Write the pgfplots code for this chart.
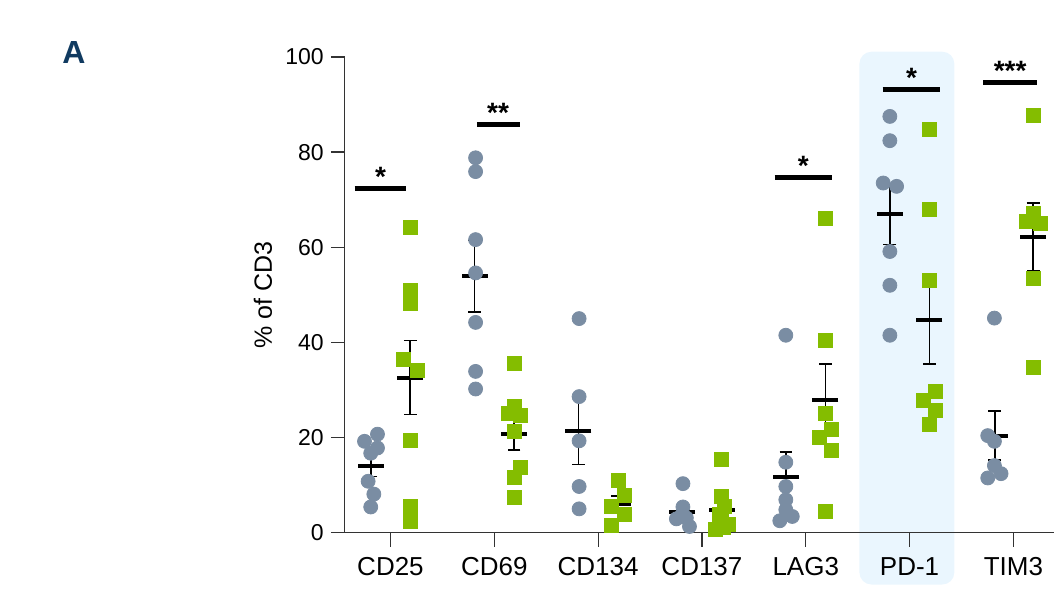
\documentclass[border=0pt]{standalone}
\usepackage{fontspec}
\setmainfont{Liberation Sans}
\usepackage{pgfplots}
\usepackage{pgfplotstable}
\pgfplotsset{compat=1.18}

\definecolor{circ}{HTML}{7A8DA3}
\definecolor{sqr}{HTML}{84BD00}
\definecolor{hl}{HTML}{EAF6FE}
\definecolor{navy}{HTML}{103A60}
\definecolor{axgray}{HTML}{333333}

% circles (group 1): x y
\pgfplotstableread{
x y
-0.25 19.2
-0.125 20.7
-0.125 17.8
-0.19 16.7
-0.215 10.8
-0.16 8.1
-0.19 5.4
0.82 78.8
0.82 75.9
0.82 61.6
0.82 54.6
0.82 44.2
0.82 33.9
0.82 30.2
1.817 45.0
1.817 28.6
1.817 19.3
1.817 9.7
1.817 5.0
2.817 10.3
2.817 5.4
2.80 3.5
2.754 2.9
2.85 3.1
2.88 1.3
3.808 41.5
3.808 14.8
3.808 9.7
3.808 6.9
3.808 4.8
3.87 3.4
3.75 2.5
4.81 87.5
4.81 82.4
4.746 73.5
4.875 72.8
4.81 59.1
4.81 52.0
4.81 41.5
5.817 45.1
5.753 20.4
5.817 19.2
5.817 14.1
5.881 12.4
5.753 11.5
}\circtab

% squares (group 2): x y
\pgfplotstableread{
x y
0.19 64.2
0.19 51.0
0.19 48.2
0.128 36.5
0.256 34.2
0.19 19.3
0.19 5.5
0.19 2.4
1.19 35.5
1.19 26.5
1.132 25.0
1.254 24.6
1.19 21.2
1.254 13.7
1.19 11.6
1.19 7.4
2.193 10.9
2.257 7.8
2.129 5.5
2.257 3.8
2.129 1.5
3.19 15.5
3.19 7.6
3.22 5.5
3.17 3.8
3.19 2.5
3.258 1.7
3.21 1.0
3.132 0.6
4.186 66.0
4.186 40.5
4.186 25.0
4.25 21.8
4.128 20.0
4.25 17.3
4.186 4.5
5.19 84.7
5.19 68.0
5.19 53.0
5.253 29.7
5.13 27.9
5.253 25.8
5.19 22.7
6.193 87.7
6.193 67.2
6.128 65.4
6.257 65.1
6.193 53.5
6.193 34.7
}\sqrtab

% means with SEM
\pgfplotstableread{
x y e
-0.19 14.1 2.3
0.19 32.6 7.8
0.81 53.9 7.5
1.19 20.7 3.3
1.81 21.4 7.1
2.19 5.95 1.7
2.81 4.35 1.0
3.19 4.7 1.8
3.81 11.8 5.2
4.19 27.8 7.6
4.81 66.9 6.3
5.19 44.6 9.1
5.82 20.4 5.15
6.19 62.2 7.1
}\meantab

\begin{document}
\begin{tikzpicture}
\path (0,0) rectangle (527.5pt,299.5pt);
\node[font=\fontsize{16}{18}\selectfont\bfseries, text=navy] at (37pt,273pt) {A};
\begin{axis}[
  at={(172.5pt,33pt)},
  anchor=south west,
  scale only axis,
  width=355pt,
  height=238pt,
  xmin=-0.44, xmax=6.394,
  ymin=0, ymax=100,
  clip=false,
  set layers=standard,
  axis lines*=left,
  axis line style={line width=0.7pt, color=axgray},
  tick align=outside,
  major tick length=7pt,
  tick style={line width=0.6pt, color=axgray},
  xtick={0,1,2,3,4,5,6},
  xticklabels={CD25,CD69,CD134,CD137,LAG3,PD-1,TIM3},
  ytick={0,20,40,60,80,100},
  /pgf/number format/assume math mode=true,
  xticklabel style={font=\fontsize{13}{15}\selectfont, yshift=-2pt},
  yticklabel style={font=\fontsize{11.5}{13}\selectfont},
  ylabel={\% of CD3},
  ylabel style={font=\fontsize{12.5}{14}\selectfont, at={(axis description cs:-0.1155,0.5)}, anchor=center},
]
\begin{pgfonlayer}{axis background}
\fill[hl, rounded corners=6pt]
  (axis cs:4.517,101.1) rectangle (axis cs:5.431,-10.9);
\end{pgfonlayer}

\addplot[only marks, mark=-, mark size=6.5pt, black,
  mark options={line width=2pt},
  error bars/.cd, y dir=both, y explicit,
  error bar style={line width=0.8pt, black},
  error mark options={rotate=90, mark size=3.2pt, line width=0.8pt, black}]
  table[x=x, y=y, y error=e] {\meantab};

\addplot[only marks, mark=*, mark size=3.5pt, color=circ, mark options={draw=none, fill=circ}]
  table[x=x, y=y] {\circtab};
\addplot[only marks, mark=square*, mark size=3.5pt, color=sqr, mark options={draw=none, fill=sqr}]
  table[x=x, y=y] {\sqrtab};

% significance bars
\addplot[black, line width=2.5pt] coordinates {(-0.344,72.4) (0.154,72.4)};
\addplot[black, line width=2.5pt] coordinates {(0.833,85.9) (1.244,85.9)};
\addplot[black, line width=2.5pt] coordinates {(3.699,74.7) (4.254,74.7)};
\addplot[black, line width=2.5pt] coordinates {(4.741,93.2) (5.296,93.2)};
\addplot[black, line width=2.5pt] coordinates {(5.71,94.7) (6.227,94.7)};
\begin{scope}[every node/.style={anchor=base, font=\fontsize{14}{16}\selectfont\bfseries, yshift=1pt}]
\node at (axis cs:-0.095,72.4) {*};
\node at (axis cs:1.036,85.9) {**};
\node at (axis cs:3.976,74.7) {*};
\node at (axis cs:5.018,93.2) {*};
\node at (axis cs:5.968,94.7) {***};
\end{scope}
\end{axis}
\end{tikzpicture}
\end{document}
